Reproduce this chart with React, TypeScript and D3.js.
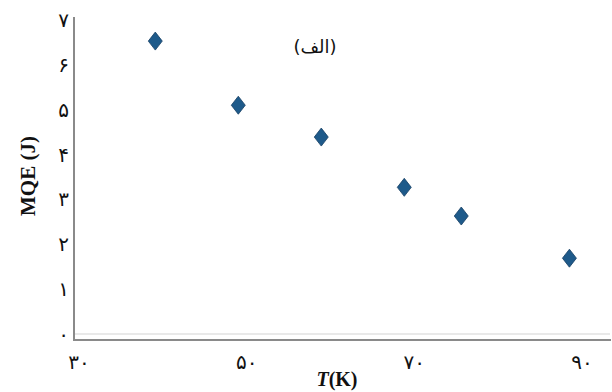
import React from "react";
import * as d3 from "d3";

const temperatures = [39.1, 49.0, 58.9, 68.8, 75.6, 88.5];
const mqeValues = [6.53, 5.1, 4.39, 3.27, 2.63, 1.69];
const xTicks = [30, 50, 70, 90];
const yTicks = [0, 1, 2, 3, 4, 5, 6, 7];
const toPersian = (n: number) => String(n).replace(/\d/g, (d) => "۰۱۲۳۴۵۶۷۸۹"[+d]);

export default function App() {
  const W = 612, H = 392;
  const x = d3.scaleLinear().domain([30, 90]).range([79, 582]);
  const y = d3.scaleLinear().domain([0, 7]).range([334, 20]);
  const font = "'Liberation Serif', 'DejaVu Serif', serif";
  const digitFont = "'DejaVu Sans', sans-serif";
  const diamond = (cx: number, cy: number) =>
    `M${cx},${cy - 9}L${cx + 7},${cy}L${cx},${cy + 9}L${cx - 7},${cy}Z`;
  return (
    <svg width={W} height={H} style={{ position: "absolute", left: 0, top: 0, background: "#fff" }}>
      <line x1={75} x2={610} y1={y(0)} y2={y(0)} stroke="#e2e2e2" strokeWidth={1.5} />
      <line x1={74} x2={74} y1={17} y2={341} stroke="#8a8a8a" strokeWidth={2} />
      <line x1={73} x2={611} y1={340} y2={340} stroke="#8a8a8a" strokeWidth={2} />
      {yTicks.map((t) => (
        <text key={t} x={69} y={y(t)} fontSize={20} fontFamily={digitFont} textAnchor="end" dominantBaseline="central" fill="#111">
          {toPersian(t)}
        </text>
      ))}
      {xTicks.map((t) => (
        <text key={t} x={x(t)} y={362} fontSize={20} fontFamily={digitFont} textAnchor="middle" dominantBaseline="central" fill="#111">
          {toPersian(t)}
        </text>
      ))}
      {temperatures.map((t, i) => (
        <path key={i} d={diamond(x(t), y(mqeValues[i]))} fill="#1e5a8a" stroke="#163f63" strokeWidth={0.8} />
      ))}
      <text x={315} y={46} fontSize={18} fontFamily={digitFont} textAnchor="middle" dominantBaseline="central" fill="#111">
        (الف)
      </text>
      <text transform="translate(28,176) rotate(-90)" fontSize={21} fontWeight="bold" fontFamily={font} textAnchor="middle" dominantBaseline="central" fill="#111">
        MQE (J)
      </text>
      <text x={337} y={379} fontSize={20} fontWeight="bold" fontFamily={font} textAnchor="middle" dominantBaseline="central" fill="#111">
        <tspan fontStyle="italic">T</tspan>(K)
      </text>
    </svg>
  );
}
